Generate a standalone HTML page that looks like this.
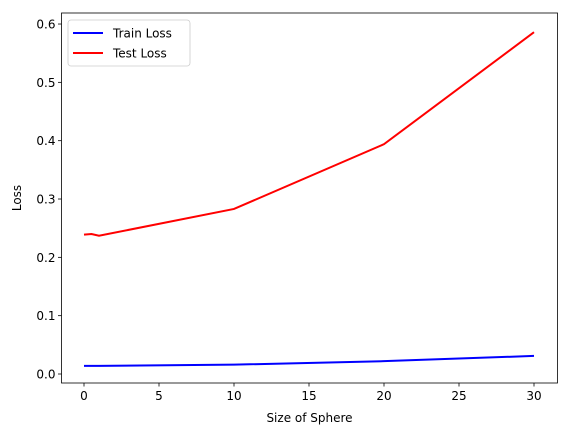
<!DOCTYPE html>
<html><head><meta charset="utf-8"><style>
body{margin:0;background:#fff}
svg text{font-family:"DejaVu Sans","Liberation Sans",sans-serif;font-size:12px;fill:#000}
</style></head><body>
<svg id="c" width="570" height="436"></svg>
<script>
const xs=[0,0.5,1,10,20,30];
const trainLoss=[0.014,0.014,0.014,0.016,0.022,0.031];
const testLoss=[0.239,0.240,0.237,0.283,0.394,0.586];
const xTicks=[0,5,10,15,20,25,30];
const yTicks=[0.0,0.1,0.2,0.3,0.4,0.5,0.6];
const NS='http://www.w3.org/2000/svg';
const svg=document.getElementById('c');
const L=61.5,R=557.5,T=13,B=383;
const X=v=>84+v*15;
const Y=v=>374-v*583.3;
function mk(t,a,p){const e=document.createElementNS(NS,t);for(const k in a)e.setAttribute(k,a[k]);(p||svg).appendChild(e);return e;}
const frame=mk('rect',{x:L,y:T,width:R-L,height:B-T,fill:'none',stroke:'#000','stroke-width':0.8});


xTicks.forEach(v=>{const g=mk('g',{});


mk('line',{x1:X(v),x2:X(v),y1:B,y2:B+3.5,stroke:'#000','stroke-width':0.8},g);
const t=mk('text',{x:X(v),y:B+17,'text-anchor':'middle'},g);t.textContent=v;});
yTicks.forEach(v=>{const g=mk('g',{});


mk('line',{x1:L,x2:L-3.5,y1:Y(v),y2:Y(v),stroke:'#000','stroke-width':0.8},g);
const t=mk('text',{x:L-6,y:Y(v)+4.5,'text-anchor':'end'},g);t.textContent=v.toFixed(1);});
const xt=mk('text',{x:(L+R)/2,y:422,'text-anchor':'middle'});xt.textContent='Size of Sphere';


const yt=mk('text',{x:0,y:0,'text-anchor':'middle',transform:`translate(21,${(T+B)/2}) rotate(-90)`});yt.textContent='Loss';


function line(vals,col,name){const p=mk('polyline',{points:xs.map((x,i)=>X(x)+','+Y(vals[i])).join(' '),fill:'none',stroke:col,'stroke-width':2});

}
line(trainLoss,'#0000ff','train-loss-line');
line(testLoss,'#ff0000','test-loss-line');
const lg=mk('g',{});


mk('rect',{x:68,y:20,width:122,height:46,rx:3,fill:'#fff',stroke:'#ccc','stroke-width':0.8},lg);
[['Train Loss','#0000ff'],['Test Loss','#ff0000']].forEach((d,i)=>{const y=33+i*20;
const e=mk('g',{},lg);


mk('line',{x1:73,x2:103,y1:y,y2:y,stroke:d[1],'stroke-width':2},e);
const t=mk('text',{x:113,y:y+4.5},e);t.textContent=d[0];});
</script>
</body></html>
